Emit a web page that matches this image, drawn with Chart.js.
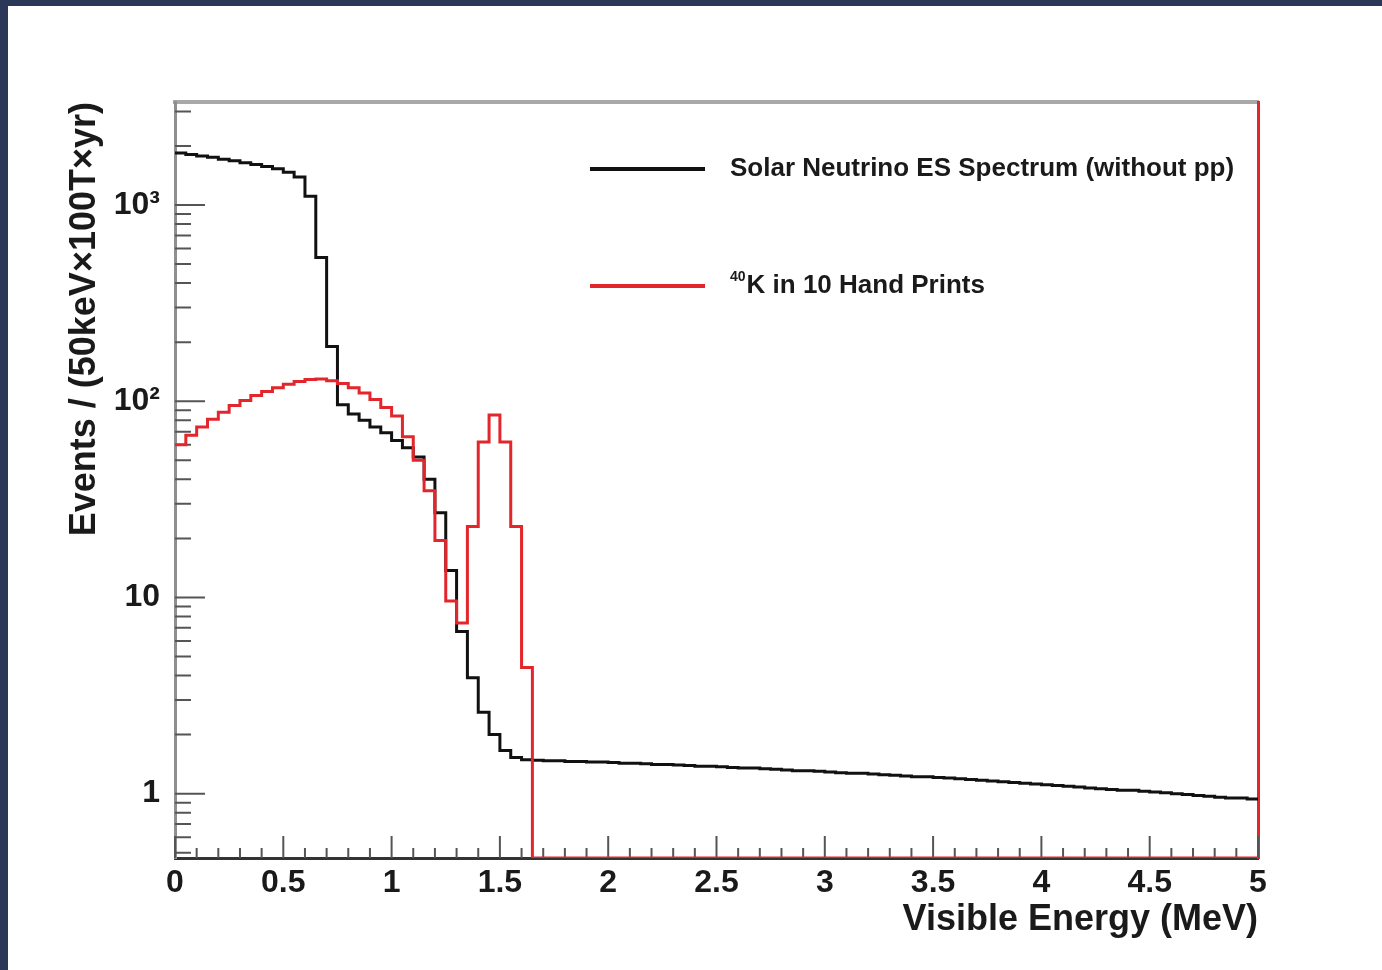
<!DOCTYPE html>
<html>
<head>
<meta charset="utf-8">
<script src="https://cdn.jsdelivr.net/npm/chart.js@4"></script>
<style>
  body { margin: 0; background: #2b3858; }
  #paper { position: absolute; left: 8px; top: 6px; width: 1374px; height: 964px; background: #fff; }
  #spec { position: absolute; left: 0; top: 0; }
</style>
</head>
<body>
<div id="paper"></div>
<canvas id="spec" width="1382" height="970"></canvas>
<script>
// histogram: 100 bins of 50 keV from 0 to 5 MeV
const binWidth = 0.05;

const solarNu = [
  1840, 1810, 1780, 1750, 1710, 1680, 1640, 1610, 1570, 1530,
  1470, 1390, 1110, 540, 190, 96, 86, 80, 74, 69,
  63, 58, 52, 40, 27, 13.7, 6.7, 3.9, 2.6, 2.0,
  1.66, 1.53, 1.49, 1.48, 1.47, 1.47, 1.46, 1.46, 1.45, 1.45,
  1.44, 1.43, 1.43, 1.42, 1.41, 1.41, 1.40, 1.39, 1.38, 1.38,
  1.37, 1.36, 1.35, 1.35, 1.34, 1.33, 1.32, 1.31, 1.31, 1.30,
  1.29, 1.28, 1.27, 1.27, 1.26, 1.25, 1.24, 1.23, 1.22, 1.22,
  1.21, 1.20, 1.19, 1.18, 1.17, 1.16, 1.15, 1.14, 1.13, 1.12,
  1.11, 1.10, 1.09, 1.08, 1.07, 1.06, 1.05, 1.04, 1.04, 1.03,
  1.02, 1.01, 1.00, 0.99, 0.98, 0.97, 0.96, 0.95, 0.95, 0.94
];

const k40 = [
  60, 67, 74, 81, 88, 95, 101, 107, 112, 117,
  122, 126, 129, 130, 127, 123, 117, 110, 102, 93,
  84, 66, 50, 35, 19.5, 9.6, 7.4, 23, 62, 85,
  62, 23, 4.4, 0, 0, 0, 0, 0, 0, 0,
  0, 0, 0, 0, 0, 0, 0, 0, 0, 0,
  0, 0, 0, 0, 0, 0, 0, 0, 0, 0,
  0, 0, 0, 0, 0, 0, 0, 0, 0, 0,
  0, 0, 0, 0, 0, 0, 0, 0, 0, 0,
  0, 0, 0, 0, 0, 0, 0, 0, 0, 0,
  0, 0, 0, 0, 0, 0, 0, 0, 0, 0
];

const seriesNames = ['Solar Neutrino ES Spectrum (without pp)', 'K in 10 Hand Prints'];
const seriesSup = ['', '40'];

const xTickValues = [0, 0.5, 1, 1.5, 2, 2.5, 3, 3.5, 4, 4.5, 5];
const xTickText = ['0', '0.5', '1', '1.5', '2', '2.5', '3', '3.5', '4', '4.5', '5'];
const yMajorTicks = [1, 10, 100, 1000];
const yTickText = ['1', '10', '10\u00B2', '10\u00B3'];

const yMin = 0.47, yMax = 3350;
const FONT = '"Liberation Sans", Arial, Helvetica, sans-serif';

// step points; empty bins sit on the frame bottom like ROOT does on a log axis
function histPoints(vals) {
  const pts = vals.map((v, i) => ({ x: i * binWidth, y: v > 0 ? v : yMin }));
  pts.push({ x: vals.length * binWidth, y: pts[pts.length - 1].y });
  return pts;
}

const innerTicks = {
  id: 'innerTicks',
  beforeDatasetsDraw(chart) {
    const { ctx, chartArea: a, scales: { x, y } } = chart;
    ctx.save();
    ctx.strokeStyle = '#555';
    ctx.lineWidth = 2;
    ctx.beginPath();
    x.ticks.forEach(t => {
      const px = x.getPixelForValue(t.value);
      const len = t.label ? 22 : 10;
      ctx.moveTo(px, a.bottom);
      ctx.lineTo(px, a.bottom - len);
    });
    y.ticks.forEach(t => {
      const py = y.getPixelForValue(t.value);
      const len = t.label ? 30 : 16;
      ctx.moveTo(a.left, py);
      ctx.lineTo(a.left + len, py);
    });
    ctx.stroke();
    ctx.restore();
  }
};

const legendBox = {
  id: 'legendBox',
  afterDraw(chart) {
    const ctx = chart.ctx;
    const rows = [
      { ds: chart.data.datasets[1], sup: seriesSup[0], y: 169 },
      { ds: chart.data.datasets[0], sup: seriesSup[1], y: 286 }
    ];
    ctx.save();
    ctx.textBaseline = 'middle';
    ctx.fillStyle = '#1a1a1a';
    rows.forEach(r => {
      ctx.strokeStyle = r.ds.borderColor;
      ctx.lineWidth = 4;
      ctx.beginPath();
      ctx.moveTo(590, r.y);
      ctx.lineTo(705, r.y);
      ctx.stroke();
      let tx = 730;
      if (r.sup) {
        ctx.font = 'bold 14px ' + FONT;
        ctx.fillText(r.sup, tx, r.y - 9);
        tx += ctx.measureText(r.sup).width + 1;
      }
      ctx.font = 'bold 26px ' + FONT;
      ctx.fillText(r.ds.label, tx, r.y);
    });
    ctx.restore();
  }
};

new Chart(document.getElementById('spec').getContext('2d'), {
  type: 'line',
  data: {
    datasets: [
      {
        label: seriesNames[1],
        data: histPoints(k40),
        stepped: 'before',
        borderColor: '#e3262b',
        borderWidth: 3,
        pointRadius: 0,
        fill: false,
        order: 0
      },
      {
        label: seriesNames[0],
        data: histPoints(solarNu),
        stepped: 'before',
        borderColor: '#111',
        borderWidth: 3,
        pointRadius: 0,
        fill: false,
        order: 1
      }
    ]
  },
  options: {
    responsive: false,
    animation: false,
    layout: { padding: { left: 0, top: 102, right: 124, bottom: 0 } },
    plugins: {
      legend: { display: false },
      tooltip: { enabled: false }
    },
    scales: {
      x: {
        type: 'linear',
        position: 'bottom',
        min: 0,
        max: 5,
        afterBuildTicks: s => {
          const t = [];
          for (let i = 0; i <= 50; i++) t.push({ value: i / 10 });
          s.ticks = t;
        },
        afterFit: s => { s.height = 112; },
        grid: { display: false, drawTicks: false },
        border: { display: true, color: '#333', width: 3 },
        ticks: {
          autoSkip: false,
          maxRotation: 0,
          padding: 6,
          color: '#1a1a1a',
          font: { family: FONT, size: 32, weight: 'bold' },
          callback: v => {
            const i = xTickValues.findIndex(t => Math.abs(t - v) < 1e-6);
            return i >= 0 ? xTickText[i] : '';
          }
        },
        title: {
          display: true,
          text: 'Visible Energy (MeV)',
          align: 'end',
          color: '#1a1a1a',
          font: { family: FONT, size: 36, weight: 'bold' },
          padding: { top: 28, bottom: 28 }
        }
      },
      xTop: {
        type: 'linear',
        position: 'top',
        min: 0,
        max: 5,
        afterFit: s => { s.height = 0; },
        grid: { display: false, drawTicks: false },
        border: { display: true, color: '#a8a8a8', width: 4 },
        ticks: { display: false }
      },
      y: {
        type: 'logarithmic',
        position: 'left',
        min: yMin,
        max: yMax,
        afterBuildTicks: s => {
          const t = [];
          for (let d = -1; d <= 3; d++) {
            for (let m = 1; m <= 9; m++) {
              const v = m * Math.pow(10, d);
              if (v >= yMin && v <= yMax) t.push({ value: v });
            }
          }
          s.ticks = t;
        },
        afterFit: s => { s.width = 175; },
        grid: { display: false, drawTicks: false },
        border: { display: true, color: '#8f8f8f', width: 3 },
        ticks: {
          autoSkip: false,
          padding: 15,
          color: '#1a1a1a',
          font: { family: FONT, size: 32, weight: 'bold' },
          callback: v => {
            const i = yMajorTicks.findIndex(t => Math.abs(t - v) < 1e-6 * t);
            return i >= 0 ? yTickText[i] : '';
          }
        },
        title: {
          display: true,
          text: 'Events / (50keV\u00D7100T\u00D7yr)',
          align: 'end',
          color: '#1a1a1a',
          font: { family: FONT, size: 36, weight: 'bold' },
          padding: { top: 63, bottom: 63 }
        }
      },
      yRight: {
        type: 'logarithmic',
        position: 'right',
        min: yMin,
        max: yMax,
        afterFit: s => { s.width = 0; },
        grid: { display: false, drawTicks: false },
        border: { display: true, color: '#e3262b', width: 3 },
        ticks: { display: false }
      }
    }
  },
  plugins: [innerTicks, legendBox]
});
</script>
</body>
</html>
